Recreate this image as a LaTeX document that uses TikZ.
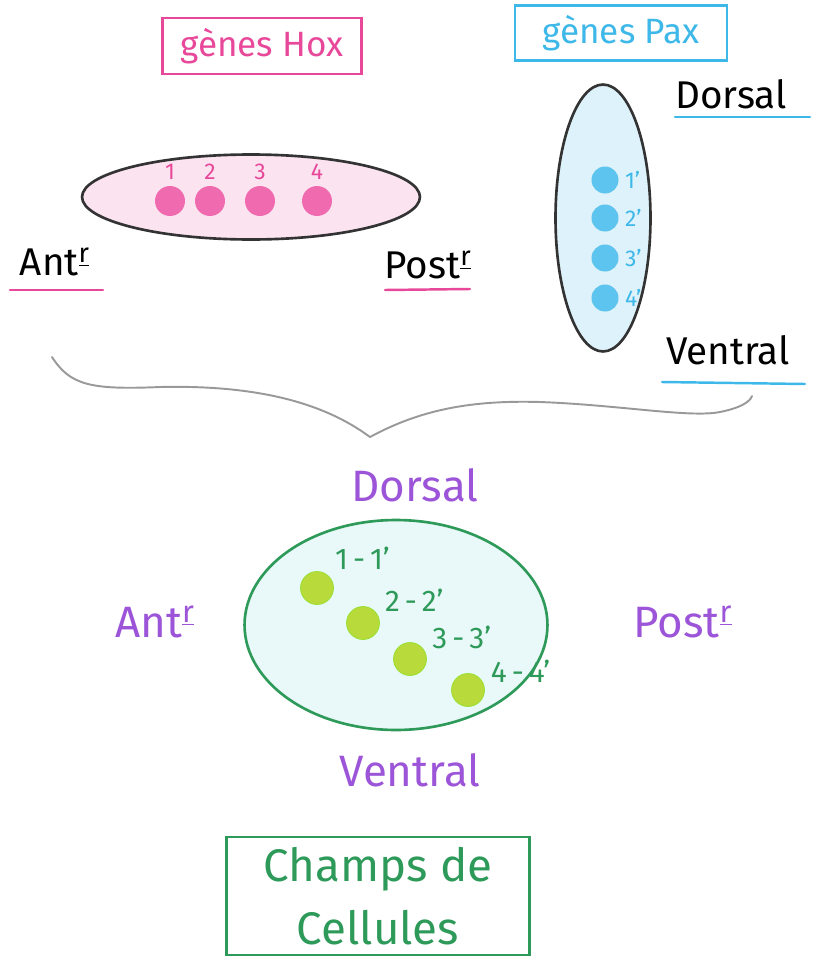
\documentclass[tikz,border=0pt]{standalone}
\usepackage{fontspec}
\setmainfont{Fira Sans}
\usetikzlibrary{positioning,shapes.geometric}

\definecolor{hoxpink}{HTML}{E8489A}
\definecolor{hoxfill}{HTML}{FBE3F0}
\definecolor{hoxdot}{HTML}{F06AB0}
\definecolor{paxblue}{HTML}{3DB8E8}
\definecolor{paxfill}{HTML}{DDF2FA}
\definecolor{paxdot}{HTML}{5CC4EE}
\definecolor{axispurple}{HTML}{9C55D8}
\definecolor{fieldgreen}{HTML}{2E9A5A}
\definecolor{fieldfill}{HTML}{E9F8F8}
\definecolor{fielddot}{HTML}{B8DA3A}
\definecolor{eggline}{HTML}{333333}

\begin{document}
\begin{tikzpicture}[
        x=0.02cm, y=-0.02cm,
        genebox/.style={draw, line width=1.2pt, inner sep=0pt,
            font=\fontsize{20}{24}\selectfont},
        egg/.style={ellipse, draw=eggline, line width=1.5pt, inner sep=0pt},
        spot/.style={circle, inner sep=0pt},
        axislbl/.style={font=\fontsize{22}{26}\selectfont},
        biglbl/.style={font=\fontsize{25}{30}\selectfont, text=axispurple},
        numlbl/.style={font=\fontsize{13}{15}\selectfont},
        pairlbl/.style={font=\fontsize{17}{20}\selectfont, text=fieldgreen},
        uline/.style={line width=1.4pt, line cap=round}
    ]
    \useasboundingbox (0,0) rectangle (821,957);

    % gene boxes
    \node[genebox, draw=hoxpink, text=hoxpink, minimum width=3.98cm,
        minimum height=1.12cm] (hoxbox) at (262,46) {gènes Hox};
    \node[genebox, draw=paxblue, text=paxblue, minimum width=4.24cm,
        minimum height=1.1cm] (paxbox) at (621,33) {gènes Pax};

    % Hox embryo (antero-posterior)
    \node[egg, fill=hoxfill, minimum width=6.76cm, minimum height=1.7cm] (hox) at (251,197) {};
    \foreach \i/\x in {1/170, 2/210, 3/260, 4/317} {
        \node[spot, fill=hoxdot, minimum size=0.6cm] (h\i) at (\x,201) {};
        \node[numlbl, text=hoxpink, above=0pt of h\i] {\i};
    }
    \node[axislbl] (antA) at (55,262) {Ant\textsuperscript{\underline{r}}};
    \node[axislbl] (postA) at (428,265) {Post\textsuperscript{\underline{r}}};
    \draw[uline, hoxpink] (10,290) -- (103,290);
    \draw[uline, hoxpink] (385,290) -- (470,289);

    % Pax embryo (dorso-ventral)
    \node[egg, fill=paxfill, minimum width=1.9cm, minimum height=5.34cm] (pax) at (603,218) {};
    \foreach \i/\y in {1/180, 2/218, 3/258, 4/298} {
        \node[spot, fill=paxdot, minimum size=0.54cm,
            label={[numlbl, text=paxblue, label distance=0pt]0:\i'}] (p\i) at (605,\y) {};
    }
    \node[axislbl] (dorA) at (731,94) {Dorsal};
    \node[axislbl] (venA) at (728,350) {Ventral};
    \draw[uline, paxblue] (675,117) -- (810,117);
    \draw[uline, paxblue] (662,382) -- (805,384);

    % brace
    \draw[line width=1.1pt, gray!80, line cap=round]
        (52,357) .. controls (70,385) and (90,390) .. (160,387)
        .. controls (250,385) and (320,400) .. (370,437)
        .. controls (420,410) and (470,400) .. (540,402)
        .. controls (620,405) and (690,418) .. (720,412)
        .. controls (740,408) and (750,402) .. (752,396);

    % field of cells
    \node[biglbl] (dorB) at (415,485) {Dorsal};
    \node[biglbl] (venB) at (410,770) {Ventral};
    \node[biglbl] (antB) at (155,622) {Ant\textsuperscript{\underline{r}}};
    \node[biglbl] (postB) at (683,622) {Post\textsuperscript{\underline{r}}};
    \node[egg, draw=fieldgreen, fill=fieldfill, minimum width=6.06cm, minimum height=4.2cm] (field) at (396,625) {};
    \foreach \i/\x/\y/\a in {1/317/588/45, 2/363/623/20, 3/410/659/15, 4/468/690/5} {
        \node[spot, fill=fielddot, draw=fielddot!80!green, minimum size=0.66cm,
            label={[pairlbl]\a:\i\,-\,\i'}] (g\i) at (\x,\y) {};
    }

    \node[genebox, draw=fieldgreen, text=fieldgreen, align=center,
        minimum width=6.06cm, minimum height=2.36cm,
        font=\fontsize{26}{36}\selectfont] (cells) at (378,896) {Champs de\\Cellules};
\end{tikzpicture}
\end{document}
